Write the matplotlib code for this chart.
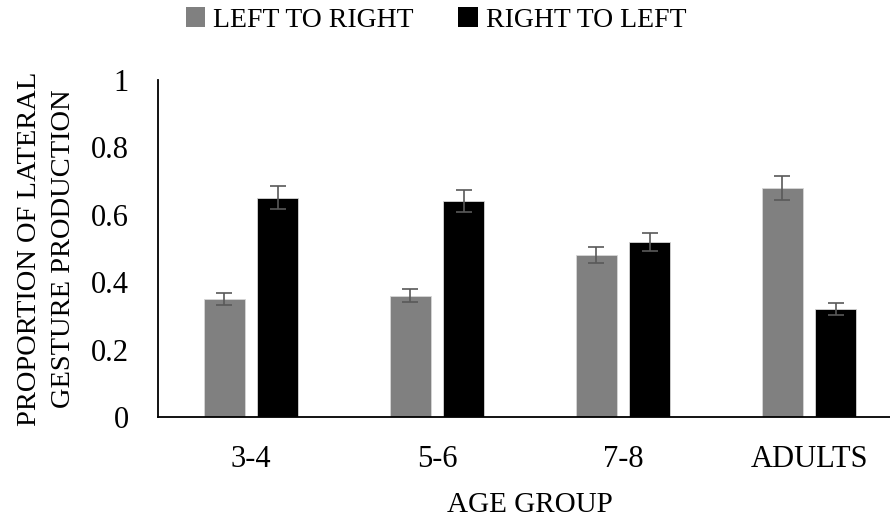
import matplotlib
matplotlib.use("Agg")
import matplotlib.pyplot as plt
from matplotlib.patches import Patch
import numpy as np

categories = ["3-4", "5-6", "7-8", "ADULTS"]
left_to_right = [0.35, 0.36, 0.48, 0.68]
left_to_right_err = [0.018, 0.019, 0.024, 0.035]
right_to_left = [0.65, 0.64, 0.52, 0.32]
right_to_left_err = [0.034, 0.033, 0.026, 0.017]
series_names = ["LEFT TO RIGHT", "RIGHT TO LEFT"]
yticks = [0, 0.2, 0.4, 0.6, 0.8, 1.0]
ytick_labels = ["0", "0.2", "0.4", "0.6", "0.8", "1"]

plt.rcParams['font.family'] = ['Liberation Serif', 'DejaVu Serif']

fig = plt.figure(figsize=(8.9, 5.17), dpi=100)
ax = fig.add_axes([158/890, 100/517, 744/890, 337/517])

x = np.arange(len(categories))
w = 0.22
off = 0.1425
grey = "#808080"
ecol = "#595959"
ekw = dict(ecolor=ecol, elinewidth=1.2, capsize=5.5, capthick=1.2)
ax.bar(x - off, left_to_right, w, color=grey, edgecolor="#d6d6d6", linewidth=0.6,
       yerr=left_to_right_err, error_kw=ekw, zorder=2)
ax.bar(x + off, right_to_left, w, color="black", edgecolor="#d6d6d6", linewidth=0.6,
       yerr=right_to_left_err, error_kw=ekw, zorder=2)

ax.set_xlim(-0.5, 3.5)
ax.set_ylim(0, 1.0)
ax.set_yticks(yticks)
ax.set_yticklabels(ytick_labels)
ax.set_xticks(x)
ax.set_xticklabels(categories)
ax.tick_params(axis='both', length=0, labelsize=22)
ax.tick_params(axis='y', pad=21)
ax.tick_params(axis='x', pad=20)
for s in ["top", "right"]:
    ax.spines[s].set_visible(False)
for s in ["left", "bottom"]:
    ax.spines[s].set_color("black")
    ax.spines[s].set_linewidth(1.3)

ax.set_xlabel("AGE GROUP", fontsize=21, labelpad=13)
ax.set_ylabel("PROPORTION OF LATERAL\nGESTURE PRODUCTION", fontsize=20.5, labelpad=11, linespacing=1.45)

handles = [Patch(facecolor=grey, edgecolor='none'), Patch(facecolor='black', edgecolor='none')]
fig.legend(handles, series_names, loc='center', bbox_to_anchor=(436/890, 1 - 20/517), ncol=2,
           frameon=False, fontsize=20, handlelength=0.7, handleheight=0.7, handletextpad=0.3,
           columnspacing=1.6, borderaxespad=0)

fig.savefig("out.png", dpi=100)
